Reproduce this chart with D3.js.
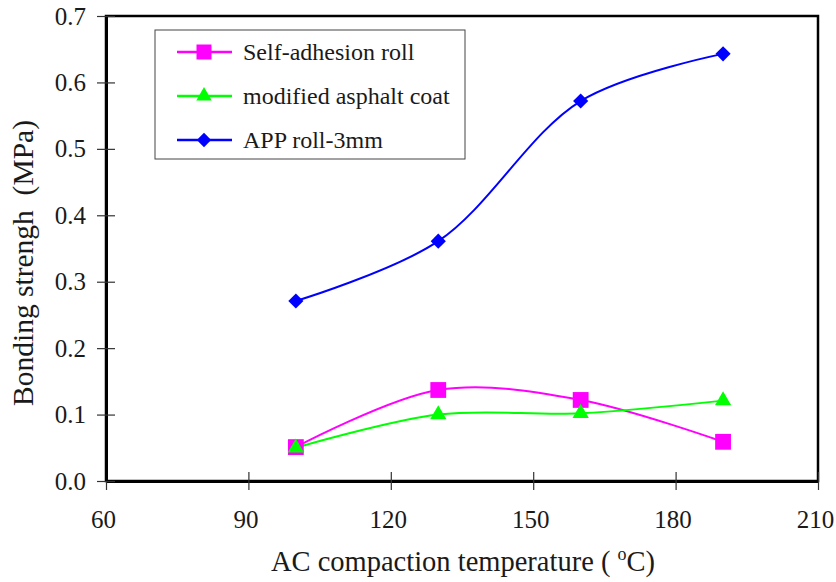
<!DOCTYPE html>
<html>
<head>
<meta charset="utf-8">
<script src="https://cdn.jsdelivr.net/npm/d3@7"></script>
<style>
  body { margin: 0; background: #fff; }
  text { font-family: "Liberation Serif", "Times New Roman", serif; fill: #1a1a1a; }
</style>
</head>
<body>
<script>
// data
var temps = [100, 130, 160, 190];
var selfAdhesion = [0.051, 0.137, 0.122, 0.059];
var asphaltCoat = [0.050, 0.100, 0.102, 0.121];
var appRoll = [0.271, 0.361, 0.572, 0.643];
var xTicks = [60, 90, 120, 150, 180, 210];
var yTicks = [0.0, 0.1, 0.2, 0.3, 0.4, 0.5, 0.6, 0.7];

var series = [
  {name: "Self-adhesion roll", values: selfAdhesion, color: "#ff00ff", symbol: d3.symbolSquare, size: 250, rot: 0},
  {name: "modified asphalt coat", values: asphaltCoat, color: "#00ff00", symbol: d3.symbolTriangle, size: 115, rot: 0},
  {name: "APP roll-3mm", values: appRoll, color: "#0000ff", symbol: d3.symbolSquare, size: 115, rot: 45}
];

var margin = {top: 16, right: 18, bottom: 101, left: 106},
    width = 836 - margin.left - margin.right,
    height = 582 - margin.top - margin.bottom;

var x = d3.scaleLinear().domain([60, 210]).range([0, width]);
var y = d3.scaleLinear().domain([0, 0.7]).range([height, 0]);

var svg = d3.select("body").append("svg")
    .attr("width", 836)
    .attr("height", 582)
  .append("g")
    .attr("transform", "translate(" + margin.left + "," + margin.top + ")");

// frame
svg.append("rect")
    .attr("width", width).attr("height", height)
    .attr("fill", "none").attr("stroke", "#000").attr("stroke-width", 2.5);

// axes, ticks cross the line
var xAxis = svg.append("g")
    .attr("transform", "translate(0," + height + ")")
    .call(d3.axisBottom(x).tickValues(xTicks).tickSizeInner(9).tickSizeOuter(0).tickPadding(20));
xAxis.selectAll(".tick line").attr("y1", -9).attr("stroke", "#333").attr("stroke-width", 1.2);
xAxis.selectAll(".tick text").attr("x", -3);

var yAxis = svg.append("g")
    .call(d3.axisLeft(y).tickValues(yTicks).tickFormat(d3.format(".1f")).tickSizeInner(9).tickSizeOuter(0).tickPadding(11));
yAxis.selectAll(".tick line").attr("x1", 9).attr("stroke", "#333").attr("stroke-width", 1.2);

svg.selectAll(".domain").attr("stroke", "#000").attr("stroke-width", 3);
svg.selectAll(".tick text")
    .style("font-family", "'Liberation Serif', serif")
    .style("font-size", "25px")
    .attr("fill", "#1a1a1a");

// lines
var line = d3.line()
    .x(function(d, i) { return x(temps[i]); })
    .y(function(d) { return y(d); })
    .curve(d3.curveCatmullRom.alpha(0.5));

series.forEach(function(s) {
  svg.append("path")
      .datum(s.values)
      .attr("fill", "none")
      .attr("stroke", s.color)
      .attr("stroke-width", 2)
      .attr("d", line);
});

series.forEach(function(s) {
  svg.selectAll(null)
      .data(s.values)
      .enter().append("path")
      .attr("d", d3.symbol().type(s.symbol).size(s.size))
      .attr("fill", s.color)
      .attr("transform", function(d, i) {
        return "translate(" + x(temps[i]) + "," + y(d) + ") rotate(" + s.rot + ")";
      });
});

// legend
var legend = svg.append("g").attr("transform", "translate(49,14)");
legend.append("rect")
    .attr("width", 310).attr("height", 129)
    .attr("fill", "#fff").attr("stroke", "#444").attr("stroke-width", 1);

series.forEach(function(s, i) {
  var g = legend.append("g").attr("transform", "translate(0," + (22 + i * 44) + ")");
  g.append("line").attr("x1", 22).attr("x2", 77).attr("stroke", s.color).attr("stroke-width", 2.5);
  g.append("path")
      .attr("d", d3.symbol().type(s.symbol).size(s.size * 0.9))
      .attr("fill", s.color)
      .attr("transform", "translate(49,0) rotate(" + s.rot + ")");
  g.append("text")
      .attr("x", 88).attr("dy", "0.35em")
      .style("font-size", "24px")
      .text(s.name);
});

// axis titles
var xt = svg.append("text")
    .attr("x", width / 2 + 1).attr("y", height + 90)
    .attr("text-anchor", "middle")
    .style("font-size", "28.5px");
xt.append("tspan").text("AC compaction temperature (\u00a0");
xt.append("tspan").attr("dy", -11).style("font-size", "18px").text("o");
xt.append("tspan").attr("dy", 11).text("C)");

svg.append("text")
    .attr("transform", "translate(-73," + (263 - margin.top) + ") rotate(-90)")
    .attr("text-anchor", "middle")
    .style("font-size", "29.5px")
    .text("Bonding strengh\u00a0 (MPa)");
</script>
</body>
</html>
